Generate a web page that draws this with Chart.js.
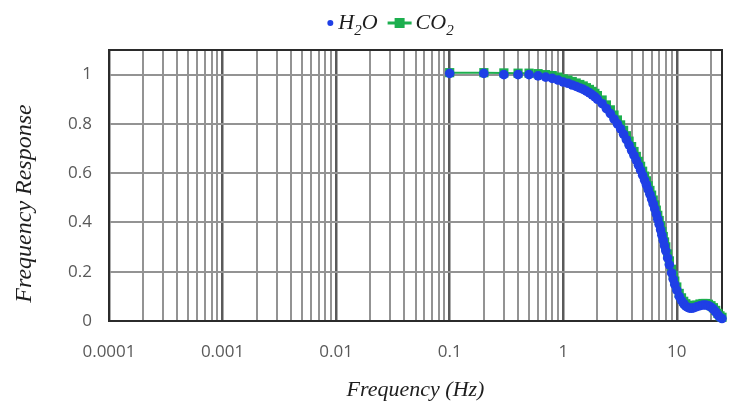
<!DOCTYPE html>
<html>
<head>
<meta charset="utf-8">
<script src="https://cdn.jsdelivr.net/npm/chart.js@4.4.1/dist/chart.umd.min.js"></script>
<style>
  html, body { margin: 0; background: #fff; }
  #wrap { width: 734px; height: 405px; }
</style>
</head>
<body>
<div id="wrap"><canvas id="chart"></canvas></div>
<script>
// frequency bins (Hz)
const freqs = [
  0.1, 0.2, 0.3, 0.4, 0.5, 0.6, 0.7, 0.8, 0.9, 1.0,
  1.1, 1.2, 1.3, 1.4, 1.5, 1.6, 1.7, 1.8, 1.9, 2.0,
  2.2, 2.4, 2.6, 2.8, 3.0, 3.2, 3.4, 3.6, 3.8, 4.0,
  4.2, 4.4, 4.6, 4.8, 5.0, 5.2, 5.4, 5.6, 5.8, 6.0,
  6.2, 6.4, 6.6, 6.8, 7.0, 7.2, 7.4, 7.6, 7.8, 8.0,
  8.3, 8.6, 9.0, 9.3, 9.6, 10, 10.5, 11, 11.5, 12,
  12.5, 13, 13.5, 14, 15, 16, 17, 18, 19, 20,
  21, 22, 23, 24, 25,
];

const h2o = [
  1.005, 1.005, 1.0, 1.0, 1.0, 0.995, 0.99, 0.985, 0.978, 0.97,
  0.965, 0.958, 0.952, 0.946, 0.94, 0.933, 0.926, 0.918, 0.91, 0.9,
  0.882, 0.862, 0.842, 0.82, 0.8, 0.78, 0.758, 0.736, 0.714, 0.692,
  0.672, 0.652, 0.632, 0.612, 0.592, 0.572, 0.553, 0.533, 0.514, 0.495,
  0.475, 0.455, 0.434, 0.413, 0.392, 0.37, 0.348, 0.327, 0.305, 0.285,
  0.256, 0.228, 0.195, 0.17, 0.148, 0.125, 0.1, 0.083, 0.07, 0.06,
  0.055, 0.052, 0.052, 0.053, 0.058, 0.062, 0.065, 0.065, 0.062, 0.056,
  0.048, 0.037, 0.025, 0.015, 0.01,
];

const co2 = [
  1.008, 1.008, 1.007, 1.006, 1.006, 1.004, 1.0, 0.996, 0.99, 0.983,
  0.978, 0.972, 0.966, 0.96, 0.954, 0.947, 0.94, 0.932, 0.924, 0.915,
  0.897, 0.877, 0.857, 0.836, 0.816, 0.796, 0.774, 0.752, 0.73, 0.708,
  0.688, 0.668, 0.648, 0.628, 0.608, 0.588, 0.569, 0.549, 0.53, 0.511,
  0.491, 0.471, 0.45, 0.429, 0.408, 0.386, 0.364, 0.343, 0.321, 0.301,
  0.272, 0.244, 0.21, 0.185, 0.162, 0.138, 0.112, 0.094, 0.08, 0.07,
  0.064, 0.06, 0.06, 0.061, 0.065, 0.069, 0.071, 0.071, 0.068, 0.062,
  0.054, 0.043, 0.031, 0.021, 0.015,
];

const decadeTicks = [0.0001, 0.001, 0.01, 0.1, 1, 10];
const minorMultipliers = [2, 3, 4, 5, 6, 7, 8, 9];
const yTicks = [0, 0.2, 0.4, 0.6, 0.8, 1];

const X_MIN = 0.0001, X_MAX = 25;
const Y_MIN = 0, Y_MAX = 1.1;

const COLORS = { h2o: "#1f3fe6", co2: "#1caf4e", grid: "#939393", gridMajor: "#5a5a5a", frame: "#2b2b2b", tick: "#595959", title: "#1e1e1e" };
const SERIF = '"Liberation Serif", "DejaVu Serif", serif';
const SANS = '"Open Sans", "Noto Sans", sans-serif';

const xTickValues = decadeTicks
  .flatMap((d) => [d, ...minorMultipliers.map((m) => d * m)])
  .filter((v) => v <= X_MAX);

function isDecade(v) {
  const l = Math.log10(v);
  return Math.abs(l - Math.round(l)) < 1e-9;
}

function fmtDecade(v) {
  const e = Math.round(Math.log10(v));
  return e < 0 ? Math.pow(10, e).toFixed(-e) : String(Math.pow(10, e));
}

const SUBS = { "\u2082": "2" };

// plot frame on all four sides
const framePlugin = {
  id: "frame",
  beforeDatasetsDraw(chart) {
    const { ctx, chartArea: a } = chart;
    ctx.save();
    ctx.strokeStyle = COLORS.frame;
    ctx.lineWidth = 2;
    ctx.strokeRect(a.left, a.top, a.right - a.left, a.bottom - a.top);
    ctx.restore();
  },
};

// legend with real subscripts and line+marker symbols
const legendPlugin = {
  id: "subLegend",
  afterDraw(chart) {
    const { ctx } = chart;
    const font = `italic 22px ${SERIF}`;
    const subFont = `italic 15px ${SERIF}`;
    const baseline = 29;
    const centerX = 390;
    const markerY = 23;

    ctx.save();
    const items = chart.data.datasets.map((ds) => {
      const parts = [...ds.label].map((ch) => {
        const sub = SUBS[ch];
        ctx.font = sub ? subFont : font;
        const text = sub || ch;
        return { text, sub: !!sub, w: ctx.measureText(text).width };
      });
      const markW = ds.showLine ? 24 : 8;
      const textW = parts.reduce((s, p) => s + p.w, 0);
      return { ds, parts, markW, w: markW + 4 + textW };
    });
    const gap = 10;
    const total = items.reduce((s, it) => s + it.w, 0) + gap * (items.length - 1);
    let x = centerX - total / 2;

    items.forEach((it) => {
      const ds = it.ds;
      const mx = x + it.markW / 2;
      if (ds.showLine) {
        ctx.strokeStyle = ds.borderColor;
        ctx.lineWidth = 3;
        ctx.beginPath();
        ctx.moveTo(x, markerY);
        ctx.lineTo(x + it.markW, markerY);
        ctx.stroke();
        ctx.fillStyle = ds.backgroundColor;
        ctx.fillRect(mx - 5, markerY - 5, 10, 10);
      } else {
        ctx.fillStyle = ds.backgroundColor;
        ctx.beginPath();
        ctx.arc(mx, markerY, 3, 0, Math.PI * 2);
        ctx.fill();
      }
      let tx = x + it.markW + 4;
      ctx.fillStyle = COLORS.title;
      ctx.textBaseline = "alphabetic";
      it.parts.forEach((p) => {
        ctx.font = p.sub ? subFont : font;
        ctx.fillText(p.text, tx, p.sub ? baseline + 6 : baseline);
        tx += p.w;
      });
      x += it.w + gap;
    });
    ctx.restore();
  },
};

new Chart(document.getElementById("chart"), {
  type: "scatter",
  data: {
    datasets: [
      {
        label: "H\u2082O",
        data: freqs.map((f, i) => ({ x: f, y: h2o[i] })),
        showLine: false,
        backgroundColor: COLORS.h2o,
        borderColor: COLORS.h2o,
        pointRadius: 4.8,
        pointBorderWidth: 0,
        clip: false,
      },
      {
        label: "CO\u2082",
        data: freqs.map((f, i) => ({ x: f, y: co2[i] })),
        showLine: true,
        backgroundColor: COLORS.co2,
        borderColor: COLORS.co2,
        borderWidth: 2,
        pointStyle: "rect",
        pointRadius: 6.5,
        pointBorderWidth: 0,
        clip: false,
      },
    ],
  },
  options: {
    responsive: true,
    maintainAspectRatio: false,
    animation: false,
    layout: { padding: { top: 50, right: 12, bottom: 0, left: 0 } },
    plugins: { legend: { display: false }, tooltip: { enabled: false } },
    scales: {
      x: {
        type: "logarithmic",
        min: X_MIN,
        max: X_MAX,
        afterBuildTicks: (s) => { s.ticks = xTickValues.map((v) => ({ value: v, major: isDecade(v) })); },
        afterFit: (s) => { s.height = 84; },
        ticks: {
          autoSkip: false,
          maxRotation: 0,
          padding: 21,
          color: COLORS.tick,
          font: { family: SANS, size: 17 },
          callback: (v) => (isDecade(v) ? fmtDecade(v) : ""),
        },
        grid: {
          drawTicks: false,
          color: (c) => (c.tick && isDecade(c.tick.value) ? COLORS.gridMajor : COLORS.grid),
          lineWidth: (c) => (c.tick && isDecade(c.tick.value) ? 2.5 : 2),
        },
        border: { display: false },
        title: {
          display: true,
          text: "Frequency (Hz)",
          color: COLORS.title,
          font: { family: SERIF, style: "italic", size: 22 },
          padding: { top: 0, bottom: 2 },
        },
      },
      y: {
        min: Y_MIN,
        max: Y_MAX,
        afterBuildTicks: (s) => { s.ticks = yTicks.map((v) => ({ value: v })); },
        afterFit: (s) => { s.width = 109; },
        ticks: {
          padding: 17,
          color: COLORS.tick,
          font: { family: SANS, size: 17 },
          callback: (v) => String(v),
        },
        grid: { drawTicks: false, color: COLORS.grid, lineWidth: 2 },
        border: { display: false },
        title: {
          display: true,
          text: "Frequency Response      ",
          color: COLORS.title,
          font: { family: SERIF, style: "italic", size: 24 },
          padding: { top: 10, bottom: 0 },
        },
      },
    },
  },
  plugins: [framePlugin, legendPlugin],
});
</script>
</body>
</html>
